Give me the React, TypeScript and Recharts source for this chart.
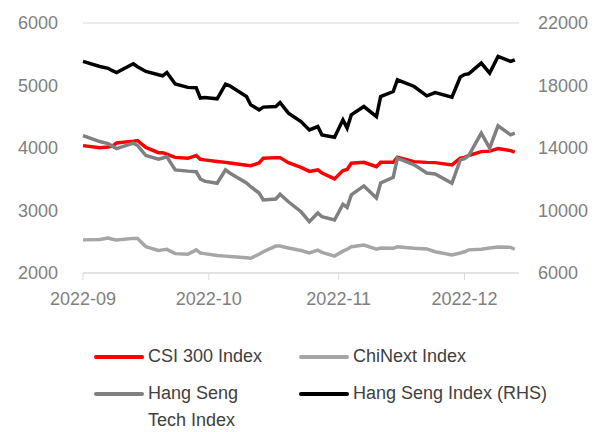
import { LineChart, Line, XAxis, YAxis, CartesianGrid } from 'recharts';

// day offsets from 2022-09-01
const days = [
  0, 4, 6, 7, 8, 12, 13, 15, 18, 19, 20, 22, 25, 27, 28, 29, 32, 34, 35, 39,
  40, 42, 43, 46, 47, 49, 52, 54, 56, 57, 60, 62, 63, 64, 67, 70, 71, 74, 75, 79,
  82, 84, 88, 90, 91, 92, 95, 97, 99, 102, 103,
];

const csi300 = [
  4038, 4006, 4015, 4030, 4080, 4110, 4119, 4010, 3926, 3926, 3900, 3850, 3835, 3880, 3820, 3810, 3785, 3770, 3760, 3725,
  3718, 3760, 3837, 3846, 3846, 3765, 3690, 3625, 3649, 3600, 3505, 3640, 3655, 3756, 3772, 3700, 3772, 3772, 3853, 3782,
  3770, 3766, 3729, 3837, 3850, 3880, 3942, 3950, 3990, 3958, 3935,
];

const chinext = [
  2530, 2535, 2560, 2540, 2530, 2554, 2554, 2420, 2360, 2370, 2378, 2310, 2300, 2370, 2320, 2310, 2280, 2270, 2265, 2245,
  2236, 2300, 2340, 2431, 2431, 2400, 2360, 2320, 2365, 2330, 2270, 2350, 2380, 2420, 2447, 2380, 2400, 2395, 2420, 2395,
  2385, 2340, 2290, 2320, 2340, 2370, 2380, 2400, 2415, 2410, 2380,
];

const hsTech = [
  4199, 4103, 4070, 4030, 3990, 4077, 4040, 3880, 3820, 3840, 3860, 3650, 3630, 3620, 3505, 3470, 3436, 3650, 3600, 3440,
  3380, 3280, 3168, 3184, 3260, 3140, 2980, 2821, 2960, 2900, 2848, 3100, 3050, 3250, 3393, 3200, 3440, 3530, 3837, 3730,
  3600, 3585, 3436, 3809, 3830, 3880, 4237, 3997, 4354, 4210, 4237,
];

const hsi = [
  19540, 19218, 19100, 18950, 18833, 19391, 19200, 18898, 18686, 18622, 18833, 18100, 17880, 17853, 17193, 17231, 17147, 18090, 17981, 17295,
  16763, 16442, 16616, 16654, 16910, 16231, 15693, 15160, 15372, 14840, 14693, 15801, 15270, 16122, 16654, 16013, 17295, 17615, 18366, 17936,
  17340, 17551, 17257, 18539, 18700, 18750, 19436, 18795, 19859, 19540, 19647,
];

const monthTicks = [0, 30, 61, 91];
const monthLabels = ['2022-09', '2022-10', '2022-11', '2022-12'];
const leftTicks = [2000, 3000, 4000, 5000, 6000];
const rightTicks = [6000, 10000, 14000, 18000, 22000];

const data = days.map((day, i) => ({
  day,
  csi300: csi300[i],
  chinext: chinext[i],
  hsTech: hsTech[i],
  hsi: hsi[i],
}));

const FONT = '"Liberation Sans", Arial, sans-serif';
const tickStyle = { fill: '#808080', fontSize: 18, fontFamily: FONT };

function LegendItem({ left, top, color, label }: { left: number; top: number; color: string; label: React.ReactNode }) {
  return (
    <div style={{ position: 'absolute', left, top, display: 'flex', alignItems: 'flex-start' }}>
      <span style={{ width: 50, height: 4, background: color, borderRadius: 2, marginTop: 10, marginRight: 4, flexShrink: 0 }} />
      <span style={{ fontSize: 18, lineHeight: '27px', color: '#404040', fontFamily: FONT, marginTop: -2 }}>{label}</span>
    </div>
  );
}

export default function App() {
  return (
    <div style={{ position: 'relative', width: 603, height: 432, background: '#fff' }}>
      <style>{'body{margin:0}'}</style>
      <LineChart width={603} height={432} data={data} margin={{ top: 23, right: 0, bottom: 129, left: 0 }}>
        <CartesianGrid vertical={false} stroke="#d9d9d9" />
        <XAxis
          dataKey="day"
          type="number"
          domain={[0, 104]}
          ticks={monthTicks}
          tickFormatter={(v: number) => monthLabels[monthTicks.indexOf(v)]}
          height={30}
          tick={tickStyle}
          stroke="#d9d9d9"
          tickSize={7}
          tickMargin={12}
        />
        <YAxis
          yAxisId="left"
          domain={[2000, 6000]}
          ticks={leftTicks}
          width={83}
          axisLine={false}
          tickLine={false}
          tickSize={0}
          tickMargin={25}
          tick={tickStyle}
        />
        <YAxis
          yAxisId="right"
          orientation="right"
          domain={[6000, 22000]}
          ticks={rightTicks}
          width={84}
          axisLine={false}
          tickLine={false}
          tickSize={0}
          tickMargin={19}
          tick={tickStyle}
        />
        <Line yAxisId="left" dataKey="csi300" stroke="#ff0000" strokeWidth={3.5} dot={false} isAnimationActive={false} />
        <Line yAxisId="left" dataKey="chinext" stroke="#a6a6a6" strokeWidth={3.5} dot={false} isAnimationActive={false} />
        <Line yAxisId="left" dataKey="hsTech" stroke="#808080" strokeWidth={3.5} dot={false} isAnimationActive={false} />
        <Line yAxisId="right" dataKey="hsi" stroke="#000000" strokeWidth={3.5} dot={false} isAnimationActive={false} />
      </LineChart>
      <LegendItem left={94} top={345} color="#ff0000" label="CSI 300 Index" />
      <LegendItem left={299} top={345} color="#a6a6a6" label="ChiNext Index" />
      <LegendItem left={94} top={382} color="#808080" label={<>Hang Seng<br />Tech Index</>} />
      <LegendItem left={299} top={382} color="#000000" label="Hang Seng Index (RHS)" />
    </div>
  );
}
